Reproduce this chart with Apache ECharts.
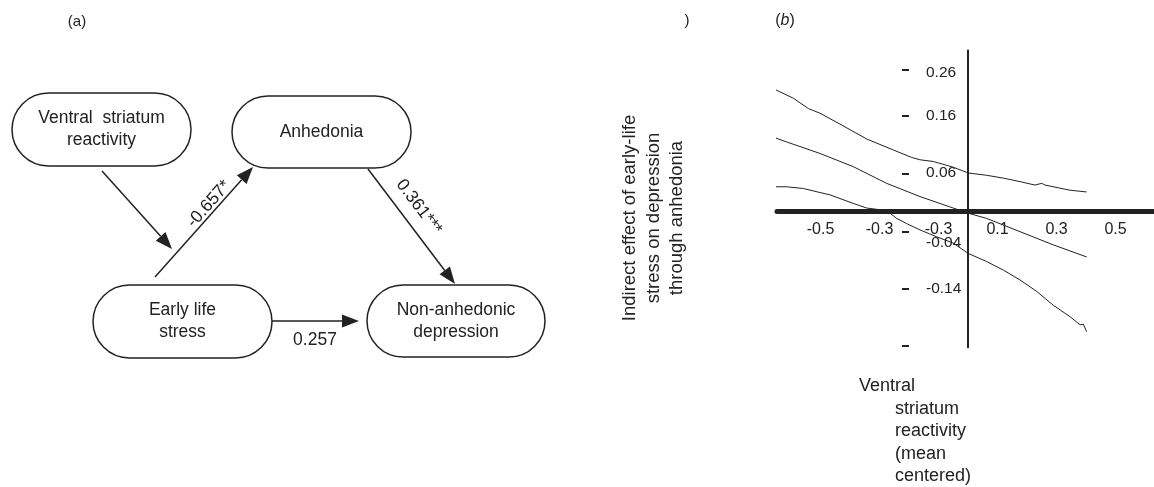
<!DOCTYPE html>
<html><head><meta charset="utf-8">
<script src="https://cdn.jsdelivr.net/npm/echarts@6/dist/echarts.min.js"></script>
<style>html,body{margin:0;padding:0;background:#fff}#c{width:1154px;height:487px}</style>
</head><body><div id="c"></div>
<script>
// ---------- Panel (a): path diagram content ----------
const nodeLines = [["Ventral  striatum", "reactivity"], ["Anhedonia"], ["Early life", "stress"], ["Non-anhedonic", "depression"]];
const pathLabels = ["-0.657*", "0.361***", "0.257"];
const panelLabels = ["(a)", ")", "(b)"];

// ---------- Panel (b): data ----------
const upperX = [-0.807, -0.728, -0.671, -0.637, -0.592, -0.541, -0.502, -0.434, -0.343, -0.253, -0.191, -0.163, -0.118, -0.050, 0.001, 0.063, 0.120, 0.176, 0.227, 0.250, 0.261, 0.346, 0.402];
const upperY = [0.255, 0.232, 0.216, 0.208, 0.197, 0.179, 0.171, 0.152, 0.126, 0.107, 0.094, 0.090, 0.087, 0.077, 0.067, 0.063, 0.058, 0.052, 0.046, 0.049, 0.046, 0.037, 0.034];
const midX = [-0.807, -0.728, -0.615, -0.502, -0.389, -0.276, -0.163, -0.050, 0.001, 0.063, 0.176, 0.289, 0.402];
const midY = [0.156, 0.142, 0.121, 0.101, 0.078, 0.049, 0.026, 0.006, -0.003, -0.012, -0.035, -0.058, -0.079];
const lowerX = [-0.807, -0.750, -0.671, -0.615, -0.558, -0.502, -0.468, -0.389, -0.343, -0.298, -0.264, -0.242, -0.208, -0.163, -0.106, -0.050, 0.001, 0.063, 0.120, 0.176, 0.233, 0.289, 0.346, 0.380, 0.391, 0.402];
const lowerY = [0.055, 0.050, 0.043, 0.043, 0.040, 0.033, 0.029, 0.014, 0.006, 0.003, -0.003, -0.012, -0.021, -0.032, -0.044, -0.055, -0.073, -0.087, -0.102, -0.119, -0.139, -0.163, -0.183, -0.197, -0.196, -0.209];

const xTickPos = [-0.5, -0.3, -0.1, 0.1, 0.3, 0.5];
const xTickLabels = ["-0.5", "-0.3", "-0.3", "0.1", "0.3", "0.5"];
const yTickPos = [0.246, 0.166, 0.065, -0.036, -0.135, -0.234];
const yLabelPos = [0.242, 0.166, 0.067, -0.055, -0.134];
const yTickLabels = ["0.26", "0.16", "0.06", "-0.04", "-0.14"];
const yTitleLines = ["Indirect effect of early-life", "stress on depression", "through anhedonia"];
const xTitleLines = ["Ventral", "striatum", "reactivity", "(mean", "centered)"];

// ---------- layout ----------
const FONT = '"Liberation Sans", Arial, Helvetica, sans-serif';
const INK = '#222';
const boxLayout = [
  {x: 12, y: 93, w: 179, h: 73},
  {x: 232, y: 96, w: 179, h: 72},
  {x: 93, y: 285, w: 179, h: 73},
  {x: 367, y: 285, w: 178, h: 72}
];
const arrowLayout = [
  [102, 171, 172, 249],
  [155, 277, 253, 167],
  [368, 169, 455, 284],
  [272, 321, 359, 321]
];
const pathLabelLayout = [
  {x: 209, y: 204, rot: 48.3},
  {x: 419, y: 207, rot: -53},
  {x: 315, y: 340, rot: 0}
];

const g = [];
boxLayout.forEach((b, i) => {
  g.push({type: 'rect', shape: {x: b.x, y: b.y, width: b.w, height: b.h, r: b.h / 2},
    style: {fill: '#fff', stroke: INK, lineWidth: 1.5}});
  const lines = nodeLines[i];
  lines.forEach((t, j) => {
    const cy = b.y + b.h / 2 + (j - (lines.length - 1) / 2) * 22;
    g.push({type: 'text', x: b.x + b.w / 2, y: cy,
      style: {text: t, font: '17.5px ' + FONT, fill: INK, align: 'center', verticalAlign: 'middle'}});
  });
});
arrowLayout.forEach(([x1, y1, x2, y2]) => {
  const a = Math.atan2(y2 - y1, x2 - x1), L = 17, W = 6.5;
  const bx = x2 - L * Math.cos(a), by = y2 - L * Math.sin(a);
  g.push({type: 'line', shape: {x1: x1, y1: y1, x2: bx, y2: by}, style: {stroke: INK, lineWidth: 1.5}});
  g.push({type: 'polygon', shape: {points: [[x2, y2], [bx - W * Math.sin(a), by + W * Math.cos(a)], [bx + W * Math.sin(a), by - W * Math.cos(a)]]},
    style: {fill: INK}});
});
pathLabels.forEach((t, i) => {
  const p = pathLabelLayout[i];
  g.push({type: 'text', x: p.x, y: p.y, rotation: p.rot * Math.PI / 180,
    style: {text: t, font: '17.5px ' + FONT, fill: INK, align: 'center', verticalAlign: 'middle'}});
});
// panel labels
g.push({type: 'text', x: 77, y: 22, style: {text: panelLabels[0], font: '15px ' + FONT, fill: INK, align: 'center', verticalAlign: 'middle'}});
g.push({type: 'text', x: 687, y: 21, style: {text: panelLabels[1], font: '15px ' + FONT, fill: INK, align: 'center', verticalAlign: 'middle'}});
g.push({type: 'text', x: 785, y: 21, style: {text: '({i|b})', font: '16px ' + FONT, fill: INK, align: 'center', verticalAlign: 'middle',
  rich: {i: {fontStyle: 'italic', fontSize: 16, fontFamily: FONT, fill: INK}}}});
// y title
yTitleLines.forEach((t, i) => {
  g.push({type: 'text', x: 630 + i * 23.5, y: 218, rotation: Math.PI / 2,
    style: {text: t, font: '18.5px ' + FONT, fill: INK, align: 'center', verticalAlign: 'middle'}});
});
// x title
xTitleLines.forEach((t, i) => {
  g.push({type: 'text', x: i === 0 ? 859 : 895, y: 386 + i * 22.6,
    style: {text: t, font: '18px ' + FONT, fill: INK, align: 'left', verticalAlign: 'middle'}});
});

const pair = (xs, ys) => xs.map((x, i) => [x, ys[i]]);
const lineSeries = (name, data) => ({
  name: name, type: 'line', xAxisIndex: 0, yAxisIndex: 0, data: data, showSymbol: false, symbol: 'none',
  clip: false, lineStyle: {color: INK, width: 1}, z: 3
});

const YMIN = -0.236, YMAX = 0.28, XMIN = -0.6475, XMAX = 0.6305;
const fmtX = v => { const k = xTickPos.findIndex(p => Math.abs(p - v) < 1e-6); return k >= 0 ? xTickLabels[k] : ''; };
const fmtY = v => { const k = yLabelPos.findIndex(p => Math.abs(p - v) < 1e-6); return k >= 0 ? yTickLabels[k] : ''; };
const option = {
  animation: false,
  backgroundColor: '#fff',
  grid: [
    {left: 777, right: 0, top: 50.5, bottom: 139.8, outerBoundsMode: 'none', containLabel: false},
    {left: 902, width: 40, top: 50.5, bottom: 139.8, outerBoundsMode: 'none', containLabel: false},
    {left: 777, right: 0, top: 150, bottom: 275.5, outerBoundsMode: 'none', containLabel: false}
  ],
  xAxis: [
    {gridIndex: 0, type: 'value', min: XMIN, max: XMAX,
      axisLine: {show: true, onZero: true, lineStyle: {color: INK, width: 5}},
      axisTick: {show: false}, splitLine: {show: false}, axisLabel: {show: false}},
    {gridIndex: 1, type: 'value', min: 0, max: 1, show: false},
    {gridIndex: 2, type: 'value', position: 'bottom', min: XMIN, max: XMAX,
      axisLine: {show: false}, axisTick: {show: false}, splitLine: {show: false},
      axisLabel: {customValues: xTickPos, margin: 10, fontSize: 16, color: INK, fontFamily: FONT, formatter: fmtX}}
  ],
  yAxis: [
    {gridIndex: 0, type: 'value', min: YMIN, max: YMAX,
      axisLine: {show: true, onZero: true, lineStyle: {color: INK, width: 2}},
      axisTick: {show: false}, axisLabel: {show: false}, splitLine: {show: false}},
    {gridIndex: 1, type: 'value', position: 'left', offset: 0, min: YMIN, max: YMAX,
      axisLine: {show: false}, splitLine: {show: false}, axisLabel: {show: false},
      axisTick: {show: true, inside: true, length: 7, customValues: yTickPos, lineStyle: {color: INK, width: 2}}},
    {gridIndex: 1, type: 'value', position: 'left', offset: 0, min: YMIN, max: YMAX,
      axisLine: {show: false}, splitLine: {show: false}, axisTick: {show: false},
      axisLabel: {inside: true, customValues: yLabelPos, margin: 24, fontSize: 15.5, color: INK, fontFamily: FONT, formatter: fmtY}},
    {gridIndex: 2, type: 'value', min: 0, max: 1, show: false}
  ],
  series: [
    lineSeries('upper', pair(upperX, upperY)),
    lineSeries('estimate', pair(midX, midY)),
    lineSeries('lower', pair(lowerX, lowerY))
  ],
  graphic: g
};
const chart = echarts.init(document.getElementById('c'), null, {renderer: 'canvas'});
chart.setOption(option);
</script>
</body></html>
